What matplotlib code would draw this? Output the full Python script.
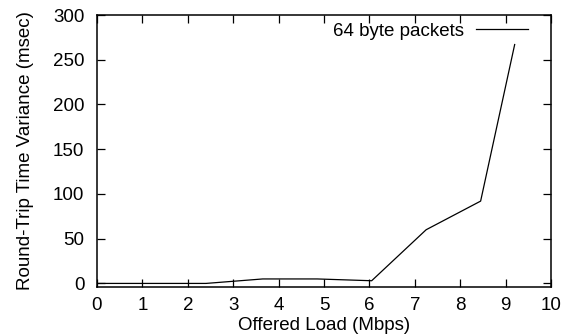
import matplotlib
matplotlib.use("Agg")
import matplotlib.pyplot as plt

# Data
load = [0, 1.2, 2.4, 3.65, 4.85, 6.05, 7.25, 8.45, 9.2]
variance = [0, 0, 0, 5, 5, 3, 60, 92, 267]
xticks = list(range(0, 11))
yticks = [0, 50, 100, 150, 200, 250, 300]

plt.rcParams['font.family'] = ['Liberation Sans', 'DejaVu Sans']
plt.rcParams['font.size'] = 13.5

fig = plt.figure(figsize=(5.65, 3.34), dpi=100)
ax = fig.add_axes([97 / 565, 47 / 334, 454 / 565, 272 / 334])

ax.plot(load, variance, color='black', linewidth=0.9, label='64 byte packets')

ax.set_xlim(0, 10)
ax.set_ylim(-4, 297)
ax.set_xticks(xticks)
ax.set_yticks(yticks)
ax.tick_params(direction='in', top=True, right=True, length=6, width=0.9)
ax.tick_params(axis='x', pad=7.5)
ax.tick_params(axis='y', pad=9)
for s in ax.spines.values():
    s.set_linewidth(1.1)

ax.set_xlabel("Offered Load (Mbps)", labelpad=1.5)
ax.set_ylabel("Round-Trip Time Variance (msec)", labelpad=14)

leg = ax.legend(loc='upper right', frameon=False, markerfirst=False,
                handlelength=2.8, handletextpad=0.64, borderaxespad=0,
                bbox_to_anchor=(0.966, 1.0))

fig.savefig("out.png", dpi=100)
